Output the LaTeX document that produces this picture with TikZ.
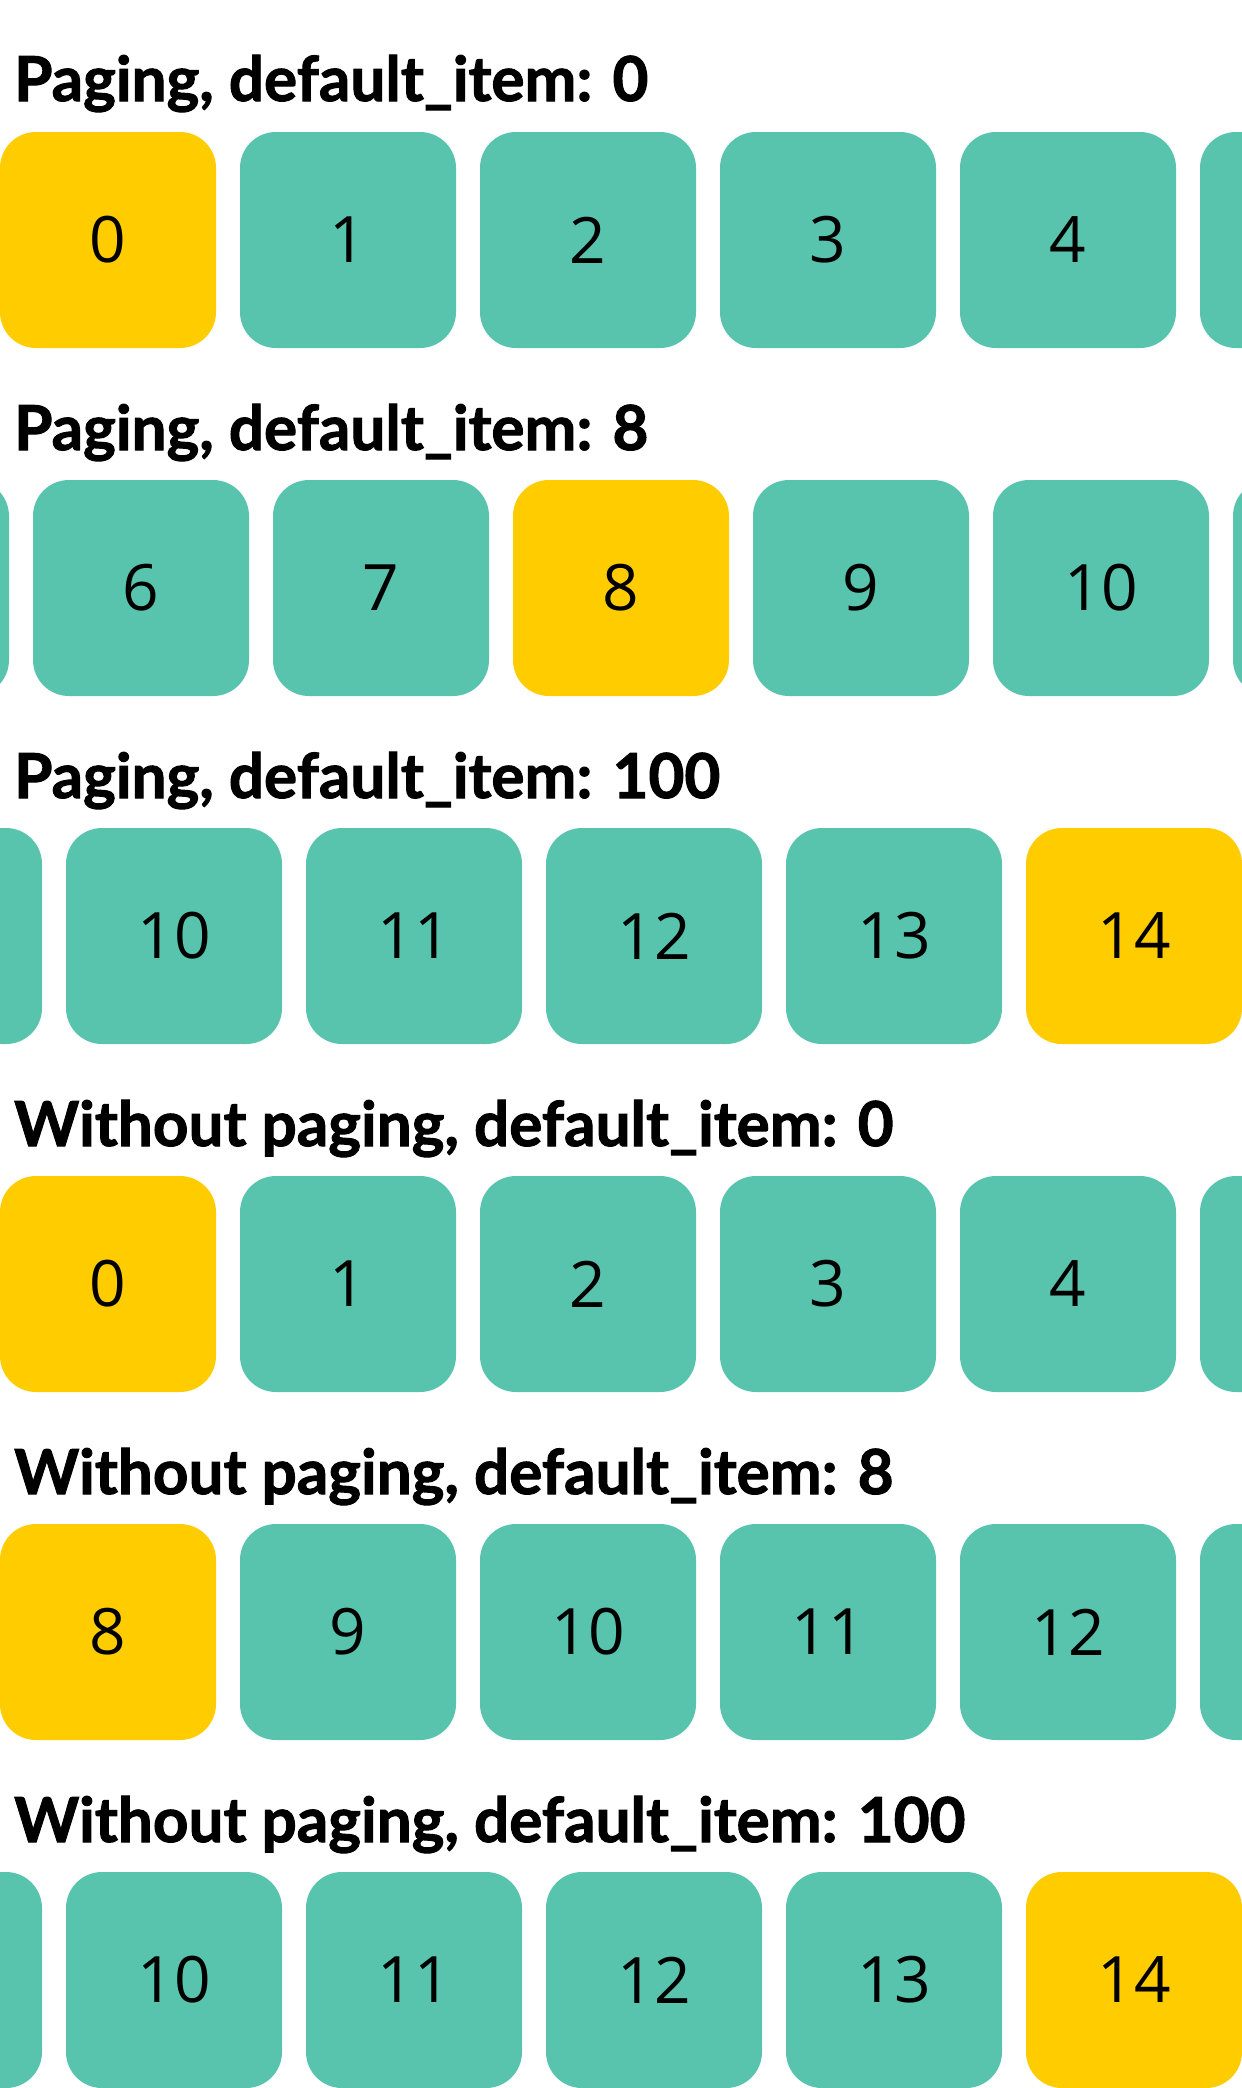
\documentclass[tikz,border=0pt]{standalone}
\usepackage{fontspec}
\setmainfont{Open Sans}
\newfontfamily\headfont{Lato}[BoldFeatures={FakeBold=1.6}]

\definecolor{cellgreen}{HTML}{58C4AE}
\definecolor{cellyellow}{HTML}{FFCC00}

\tikzset{
  cell/.style={fill=cellgreen, minimum width=216pt, minimum height=216pt,
    rounded corners=36pt, inner sep=0pt, font=\fontsize{64}{64}\selectfont},
  hit/.style={cell, fill=cellyellow},
  heading/.style={anchor=base west, inner sep=0pt,
    font=\headfont\bfseries\fontsize{62}{62}\selectfont},
}

\begin{document}
\begin{tikzpicture}[x=1pt,y=-1pt]
    \clip (0,0) rectangle (1242,2088);
    \fill[white] (0,0) rectangle (1242,2088);

    \node[heading] (t1) at (14,101) {Paging, default\_item: 0};
    \foreach \x/\v/\c [count=\i] in {0/0/hit,240/1/cell,480/2/cell,720/3/cell,960/4/cell,1200//cell}
        \node[\c] (a\i) at (\x+108,240) {\v};

    \node[heading] (t2) at (14,450) {Paging, default\_item: 8};
    \foreach \x/\v/\c [count=\i] in {-207//cell,33/6/cell,273/7/cell,513/8/hit,753/9/cell,993/10/cell,1233//cell}
        \node[\c] (b\i) at (\x+108,588) {\v};

    \node[heading] (t3) at (14,798) {Paging, default\_item: 100};
    \foreach \x/\v/\c [count=\i] in {-174//cell,66/10/cell,306/11/cell,546/12/cell,786/13/cell,1026/14/hit}
        \node[\c] (c\i) at (\x+108,936) {\v};

    \node[heading] (t4) at (14,1146) {Without paging, default\_item: 0};
    \foreach \x/\v/\c [count=\i] in {0/0/hit,240/1/cell,480/2/cell,720/3/cell,960/4/cell,1200//cell}
        \node[\c] (d\i) at (\x+108,1284) {\v};

    \node[heading] (t5) at (14,1494) {Without paging, default\_item: 8};
    \foreach \x/\v/\c [count=\i] in {0/8/hit,240/9/cell,480/10/cell,720/11/cell,960/12/cell,1200//cell}
        \node[\c] (e\i) at (\x+108,1632) {\v};

    \node[heading] (t6) at (14,1842) {Without paging, default\_item: 100};
    \foreach \x/\v/\c [count=\i] in {-174//cell,66/10/cell,306/11/cell,546/12/cell,786/13/cell,1026/14/hit}
        \node[\c] (f\i) at (\x+108,1980) {\v};
\end{tikzpicture}
\end{document}
